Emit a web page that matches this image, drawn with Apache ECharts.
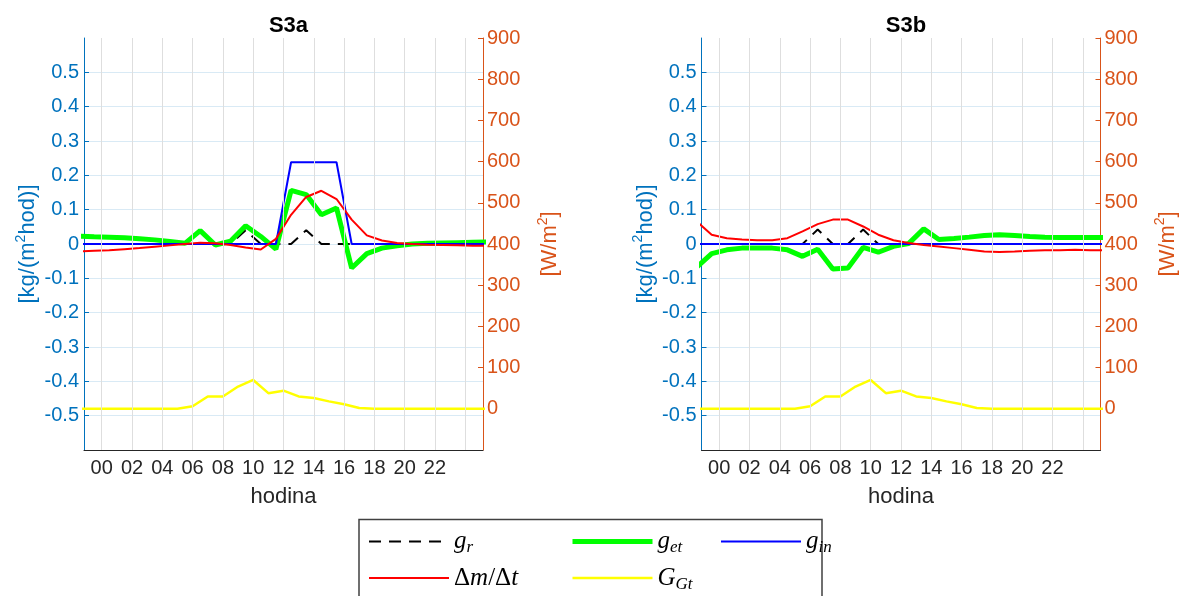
<!DOCTYPE html>
<html><head><meta charset="utf-8">
<script src="https://cdn.jsdelivr.net/npm/echarts@6/dist/echarts.min.js"></script>
<style>html,body{margin:0;padding:0;background:#fff}#c{width:1181px;height:596px}</style>
</head><body><div id="c"></div>
<script>
// ---- data ----
const hoursHalf = [-1.5,-0.5,0.5,1.5,2.5,3.5,4.5,5.5,6.5,7.5,8.5,9.5,10.5,11.5,12.5,13.5,14.5,15.5,16.5,17.5,18.5,19.5,20.5,21.5,22.5,23.5,24.5,25.5];
const hoursInt = [-2,-1,0,1,2,3,4,5,6,7,8,9,10,11,12,13,14,15,16,17,18,19,20,21,22,23,24,25,26];
const xGridValues = [0,2,4,6,8,10,12,14,16,18,20,22,24];
const xTickValues = [0,2,4,6,8,10,12,14,16,18,20,22];
const xLabelValues = [0,2,4,6,8,10,12,14,16,18,20,22];
const titles = ['S3a','S3b'];

// S3a  [kg/(m2 hod)]
const grA  = [0,0,0,0,0,0,0,0,0,0,0,0.04,0,0,0,0.04,0,0,0,0,0,0,0,0,0,0,0,0];
const getA = [0.023,0.021,0.02,0.018,0.015,0.012,0.007,0.002,0.039,-0.003,0.008,0.053,0.022,-0.015,0.156,0.144,0.085,0.105,-0.07,-0.028,-0.012,-0.005,0.0,0.002,0.003,0.004,0.005,0.006];
const ginA = [0,0,0,0,0,0,0,0,0,0,0,0,0,0,0.238,0.238,0.238,0.238,0,0,0,0,0,0,0,0,0,0];
const dmA  = [-0.022,-0.02,-0.018,-0.015,-0.012,-0.008,-0.004,0.0,0.004,0.002,-0.003,-0.01,-0.016,0.015,0.085,0.137,0.155,0.131,0.071,0.025,0.01,0.003,0.0,-0.002,-0.003,-0.004,-0.005,-0.005];
// S3b
const grB  = [0,0,0,0,0,0,0,0,0.042,0,0,0.042,0,0,0,0,0,0,0,0,0,0,0,0,0,0,0,0];
const getB = [-0.068,-0.028,-0.017,-0.012,-0.012,-0.012,-0.017,-0.036,-0.015,-0.073,-0.07,-0.01,-0.024,-0.007,0.001,0.044,0.013,0.016,0.02,0.025,0.027,0.025,0.022,0.02,0.019,0.019,0.019,0.019];
const ginB = [0,0,0,0,0,0,0,0,0,0,0,0,0,0,0,0,0,0,0,0,0,0,0,0,0,0,0,0];
const dmB  = [0.066,0.027,0.017,0.013,0.011,0.011,0.017,0.037,0.058,0.071,0.071,0.051,0.027,0.011,0.003,-0.003,-0.007,-0.012,-0.017,-0.022,-0.023,-0.022,-0.02,-0.018,-0.018,-0.017,-0.018,-0.018];
// G_Gt [W/m2] (same for both)
const GGt  = [0,0,0,0,0,0,0,0,6,30,30,54,70,38,44,30,26,18,11,2,0,0,0,0,0,0,0,0,0];

// ---- styles ----
const BLUE = '#0072BD', ORANGE = '#D95319', DARK = '#262626';
const SANS = '"Liberation Sans", Arial, sans-serif';
const SERIF = '"Liberation Serif", "Times New Roman", serif';
const pairs = (xs, ys) => xs.map((x, i) => [x, ys[i]]);

const grids = [
  {left: 84, right: 1181 - 483, top: 38, bottom: 596 - 450},
  {left: 701.5, right: 1181 - 1100.5, top: 38, bottom: 596 - 450}
];
const centers = [283.5, 901];

const xAxes = [0, 1].map(k => ({
  type: 'value', gridIndex: k, min: -1.17, max: 25.17,
  name: 'hodina', nameLocation: 'middle', nameGap: 36,
  nameTextStyle: {fontFamily: SANS, fontSize: 22, color: DARK},
  axisLine: {onZero: false, lineStyle: {color: DARK, width: 1}},
  axisTick: {inside: true, length: 5, customValues: xTickValues, lineStyle: {color: DARK}},
  axisLabel: {customValues: xLabelValues, margin: 8, fontFamily: SANS, fontSize: 20, color: DARK,
    formatter: v => (v < 10 ? '0' : '') + Math.round(v)},
  splitLine: {show: false}
}));

const yAxes = [];
[0, 1].forEach(k => {
  yAxes.push({
    type: 'value', gridIndex: k, position: 'left', min: -0.6, max: 0.6, interval: 0.1,
    name: '{a|[kg/(m}{s|2}{a|hod)]}', nameLocation: 'middle', nameGap: 42, nameRotate: 90,
    nameTextStyle: {rich: {
      a: {fontFamily: SANS, fontSize: 22, color: BLUE, lineHeight: 28},
      s: {fontFamily: SANS, fontSize: 14, color: BLUE, lineHeight: 16, verticalAlign: 'top'}}},
    axisLine: {onZero: false, lineStyle: {color: BLUE, width: 1}},
    axisTick: {inside: true, length: 5, lineStyle: {color: BLUE}},
    axisLabel: {showMinLabel: false, showMaxLabel: false, margin: 5, fontFamily: SANS, fontSize: 20, color: BLUE},
    splitLine: {show: true, showMaxLine: false, showMinLine: false, lineStyle: {color: '#d9eaf5', width: 1}}
  });
  yAxes.push({
    type: 'value', gridIndex: k, position: 'right', min: -100, max: 900, interval: 100,
    name: '{a|[W/m}{s|2}{a|]}', nameLocation: 'middle', nameGap: 53, nameRotate: 90,
    nameTextStyle: {rich: {
      a: {fontFamily: SANS, fontSize: 22, color: ORANGE, lineHeight: 28},
      s: {fontFamily: SANS, fontSize: 14, color: ORANGE, lineHeight: 16, verticalAlign: 'top'}}},
    axisLine: {onZero: false, lineStyle: {color: ORANGE, width: 1}},
    axisTick: {inside: true, length: 5, lineStyle: {color: ORANGE}},
    axisLabel: {showMinLabel: false, margin: 4, fontFamily: SANS, fontSize: 20, color: ORANGE},
    splitLine: {show: false}
  });
});

const chartData = [
  {gr: grA, get: getA, gin: ginA, dm: dmA},
  {gr: grB, get: getB, gin: ginB, dm: dmB}
];
const series = [];
chartData.forEach((d, k) => {
  const base = {type: 'line', xAxisIndex: k, symbol: 'none', showSymbol: false, animation: false, clip: true};
  // vertical grid lines at the x ticks (drawn behind the data)
  series.push(Object.assign({}, base, {name: 'grid', yAxisIndex: 2*k, data: [], silent: true, z: 1,
    markLine: {silent: true, symbol: ['none', 'none'], animation: false, label: {show: false},
      lineStyle: {color: '#dedede', type: 'solid', width: 1},
      emphasis: {disabled: true},
      data: xGridValues.map(v => ({xAxis: v}))}}));
  series.push(Object.assign({}, base, {name: 'g_r', yAxisIndex: 2*k, color: '#000000', z: 3,
    data: pairs(hoursHalf, d.gr), lineStyle: {color: '#000000', width: 2, type: [12, 8]}}));
  series.push(Object.assign({}, base, {name: 'g_et', yAxisIndex: 2*k, color: '#00ff00', z: 3,
    data: pairs(hoursHalf, d.get), lineStyle: {color: '#00ff00', width: 5}}));
  series.push(Object.assign({}, base, {name: 'g_in', yAxisIndex: 2*k, color: '#0000ff', z: 3,
    data: pairs(hoursHalf, d.gin), lineStyle: {color: '#0000ff', width: 2}}));
  series.push(Object.assign({}, base, {name: 'dm', yAxisIndex: 2*k, color: '#ff0000', z: 3,
    data: pairs(hoursHalf, d.dm), lineStyle: {color: '#ff0000', width: 2}}));
  series.push(Object.assign({}, base, {name: 'G_Gt', yAxisIndex: 2*k + 1, color: '#ffff00', z: 3,
    data: pairs(hoursInt, GGt), lineStyle: {color: '#ffff00', width: 2.5}}));
});

const legendLabels = {
  g_r: '{i|g}{s|r}',
  g_et: '{i|g}{s|et}',
  g_in: '{i|g}{s|in}',
  dm: '{u|Δ}{i|m}{u|/Δ}{i|t}',
  G_Gt: '{i|G}{s|Gt}'
};
const legendRich = {
  i: {fontFamily: SERIF, fontStyle: 'italic', fontSize: 25, color: '#000', lineHeight: 30},
  u: {fontFamily: SERIF, fontSize: 25, color: '#000', lineHeight: 30},
  s: {fontFamily: SERIF, fontStyle: 'italic', fontSize: 17, color: '#000', lineHeight: 16, verticalAlign: 'bottom'}
};
const legendCols = [
  {left: 368, data: ['g_r', 'dm']},
  {left: 570, data: ['g_et', 'G_Gt']},
  {left: 720, data: ['g_in']}
];
const legends = legendCols.map(c => ({
  orient: 'vertical', left: c.left, top: 529, padding: 0,
  itemWidth: 80, itemHeight: 30, itemGap: 9, selectedMode: false,
  data: c.data,
  lineStyle: {width: 'inherit'},
  itemStyle: {opacity: 0},
  formatter: n => legendLabels[n],
  textStyle: {rich: legendRich}
}));

const chart = echarts.init(document.getElementById('c'), null, {renderer: 'canvas'});
chart.setOption({
  backgroundColor: '#ffffff',
  animation: false,
  title: titles.map((t, k) => ({
    text: t, left: centers[k], top: 10, textAlign: 'center',
    textStyle: {fontFamily: SANS, fontSize: 22, fontWeight: 'bold', color: '#000'}
  })),
  grid: grids,
  xAxis: xAxes,
  yAxis: yAxes,
  legend: legends,
  series: series,
  graphic: [{
    type: 'rect', shape: {x: 359, y: 519.5, width: 463, height: 80}, silent: true, z: -1,
    style: {fill: '#ffffff', stroke: '#404040', lineWidth: 1.5}
  }]
});
</script></body></html>
